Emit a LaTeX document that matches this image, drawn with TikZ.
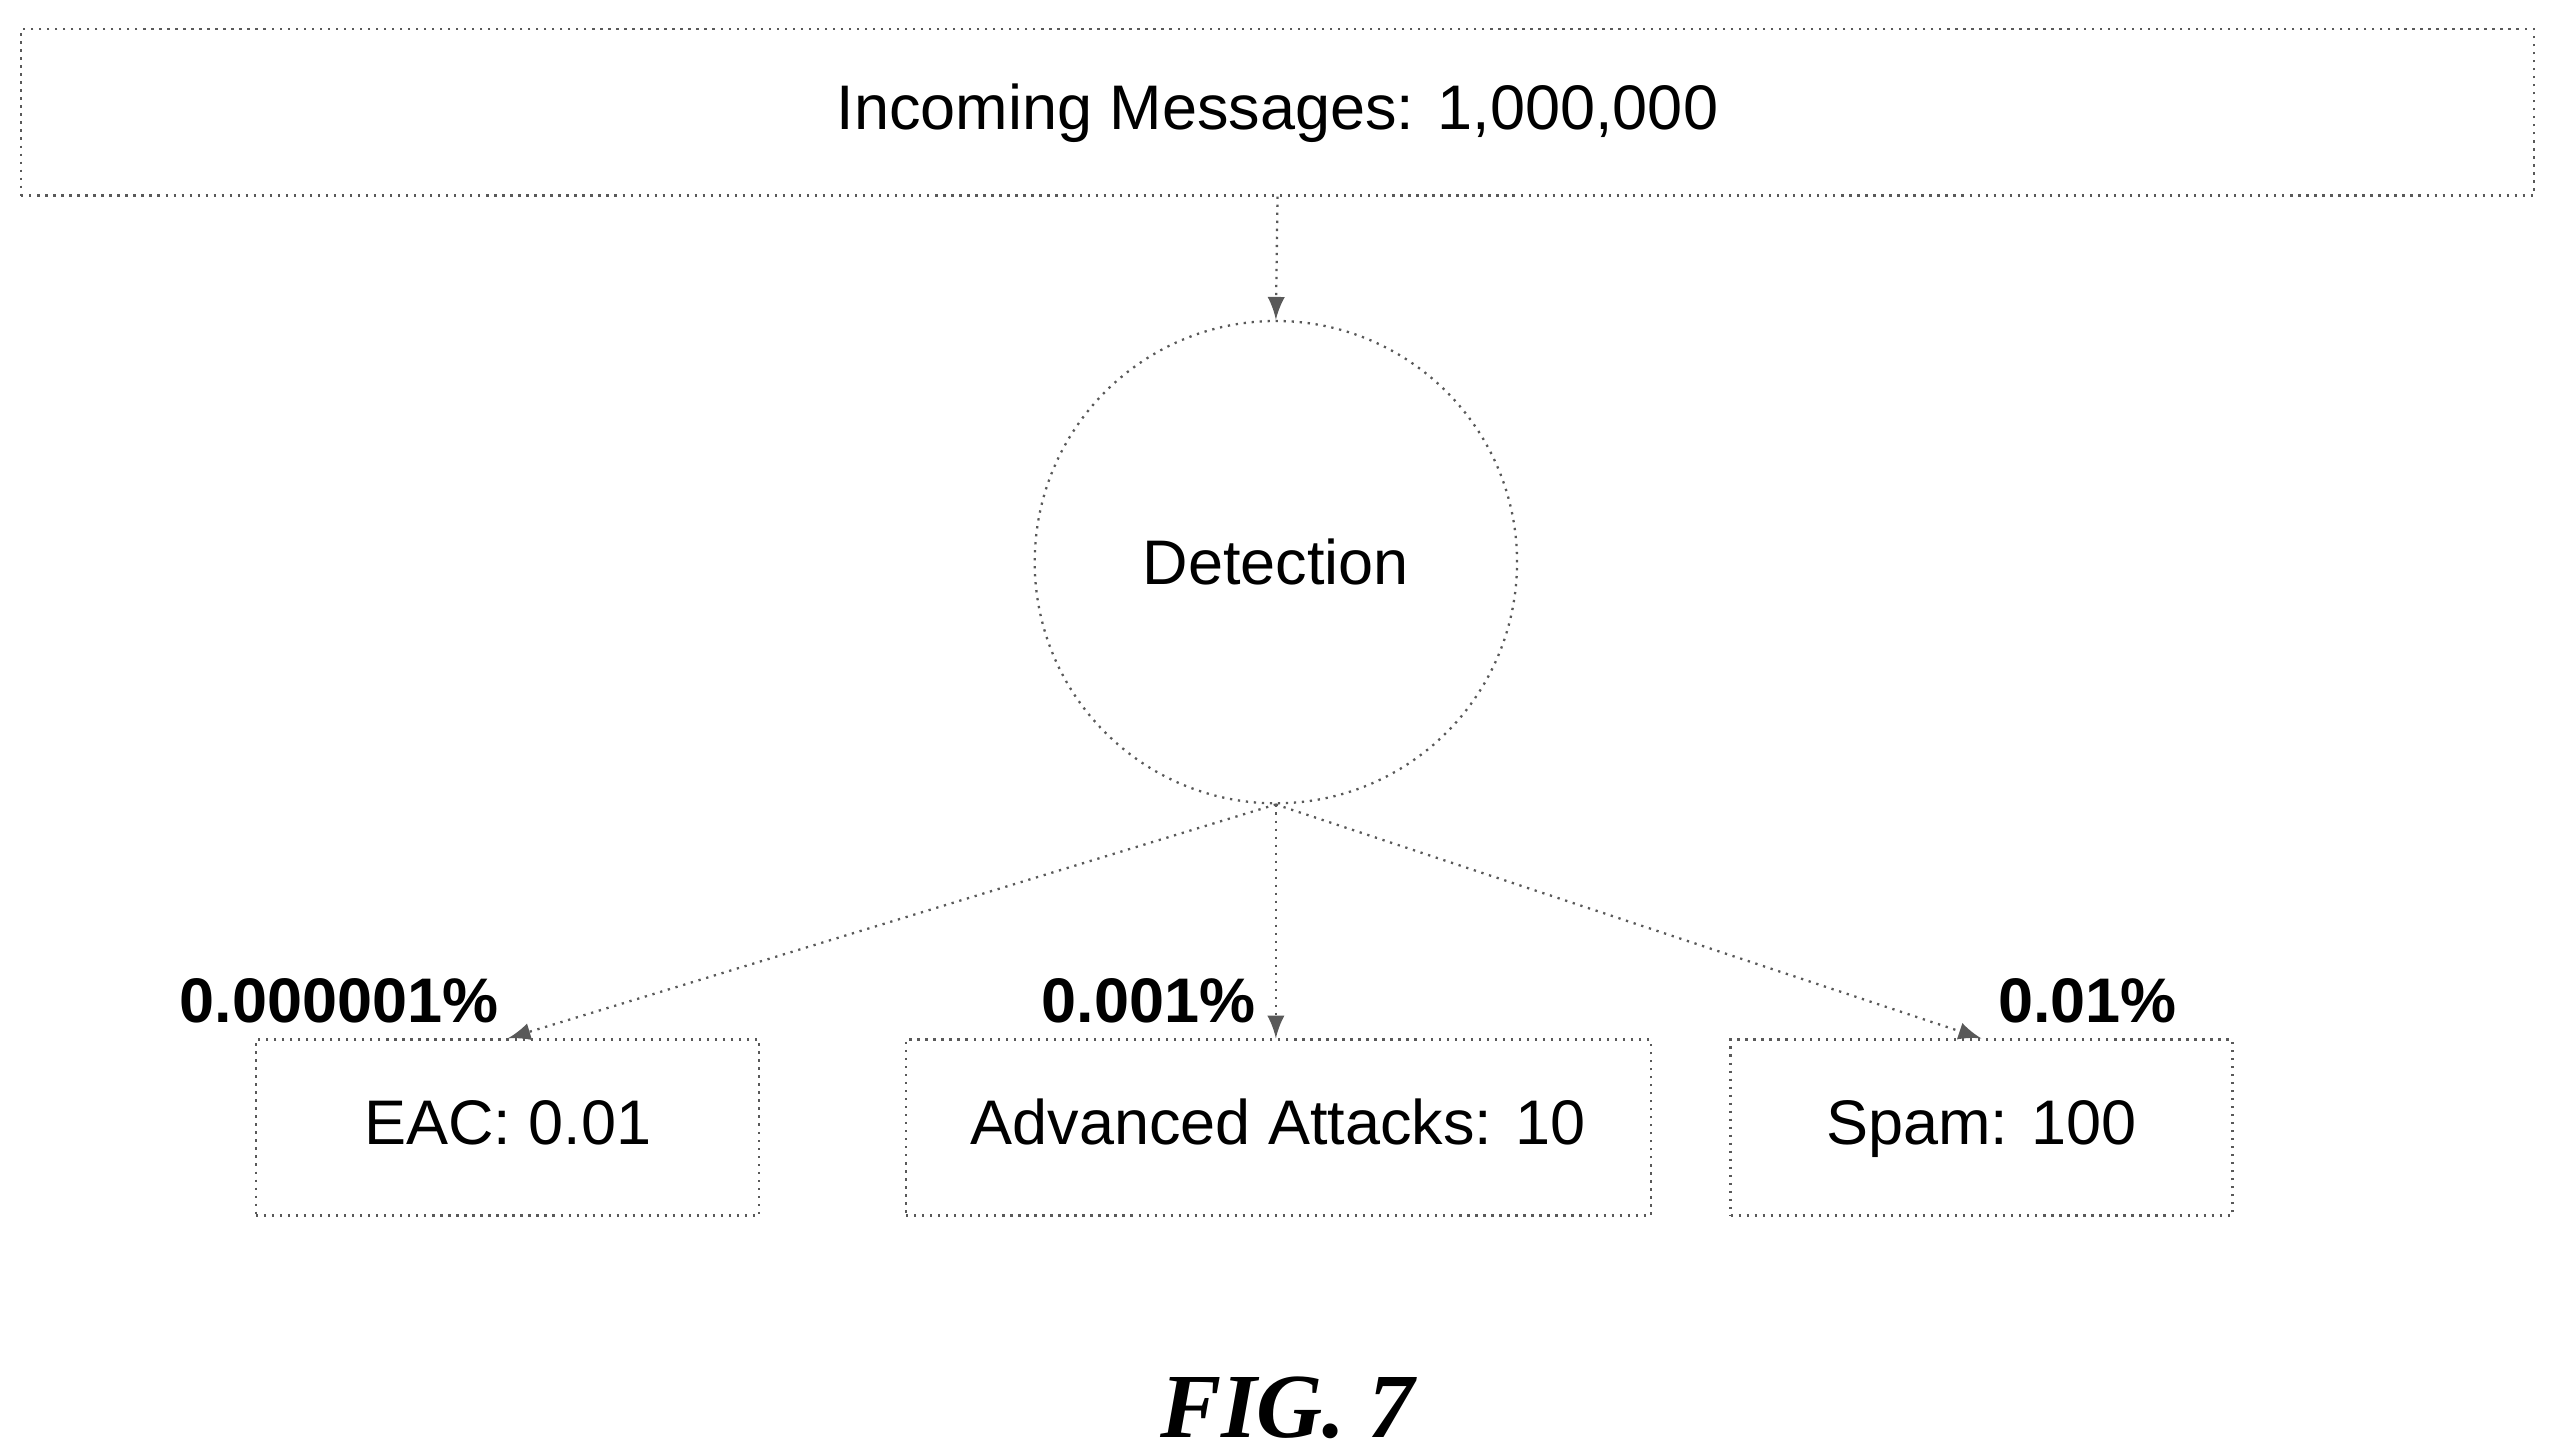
\documentclass[tikz,border=0pt]{standalone}
\usepackage{fontspec}
\setmainfont{Liberation Sans}
\newfontfamily\figfont{Liberation Serif}
\usetikzlibrary{positioning}
\tikzset{
	dotline/.style={draw=black!65, thin, densely dotted},
	box/.style={dotline, rectangle, minimum height=1.08cm, inner sep=0pt, text height=0.28cm, text depth=0.07cm},
	pct/.style={black, font=\fontsize{11}{13}\selectfont\bfseries, inner sep=0pt},
}
\begin{document}
\begin{tikzpicture}[every node/.append style={font=\fontsize{11}{13}\selectfont}]
	\useasboundingbox (0,0) rectangle (15.68,8.92);
	\node[box, minimum width=15.42cm, minimum height=1.02cm] (incoming) at (7.84,8.23) {Incoming Messages: 1,000,000};
	\node[dotline, circle, minimum size=2.96cm, inner sep=0pt] (detection) at (7.83,5.47) {Detection};
	\node[box, minimum width=3.09cm] (eac) at (3.115,2.0) {EAC: 0.01};
	\node[box, minimum width=4.57cm] (advanced) at (7.845,2.0) {Advanced Attacks: 10};
	\node[box, minimum width=3.08cm] (spam) at (12.16,2.0) {Spam: 100};
	\node[pct] (peac) at (2.08,2.78) {0.000001\%};
	\node[pct] (padv) at (7.05,2.78) {0.001\%};
	\node[pct] (pspam) at (12.81,2.78) {0.01\%};
	\draw[dotline, -latex] (incoming.south) -- (detection.north);
	\draw[dotline, -latex] (detection.south) -- (eac.north);
	\draw[dotline, -latex] (detection.south) -- (advanced.north -| detection.south);
	\draw[dotline, -latex] (detection.south) -- (spam.north);
	\node[black, font=\figfont\bfseries\itshape\fontsize{16}{19}\selectfont] (fig) at (7.9,0.28) {FIG. 7};
\end{tikzpicture}
\end{document}
